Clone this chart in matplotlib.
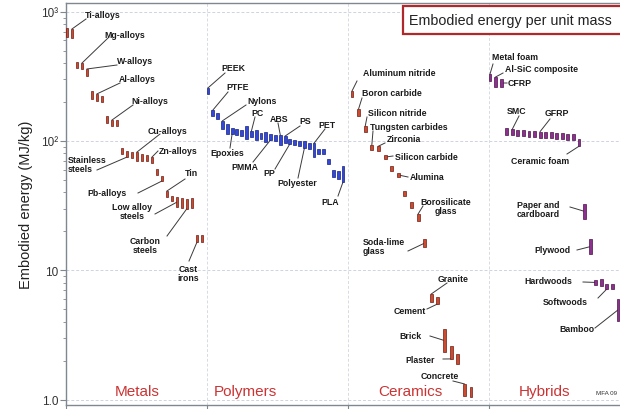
import matplotlib
matplotlib.use("Agg")
import matplotlib.pyplot as plt
from matplotlib.patches import Rectangle
from matplotlib.ticker import FixedLocator, FixedFormatter, LogLocator, NullFormatter

plt.rcParams['font.family'] = ['Liberation Sans', 'DejaVu Sans']

# ---------------- data (MJ/kg, low / high of each material bar) ----------------
groups = ["Metals", "Polymers", "Ceramics", "Hybrids"]

metals_lo = [637, 625, 366, 360, 318, 211, 204, 200, 138, 130, 130, 79, 75, 74, 70, 70,
             70, 67.5, 54.6, 49, 36.8, 34.3, 31, 30.3, 30, 30.3, 16.5, 16.5]
metals_hi = [747, 734, 408, 400, 360, 243, 231, 223, 156, 145, 145, 88, 83.5, 82, 82, 79,
             78, 75, 60.7, 53.6, 41, 37.5, 36.5, 36.2, 35.5, 36.2, 18.7, 18.7]

polymers_lo = [231, 156, 148, 124, 113, 113, 111, 109, 103, 107, 102, 103, 98, 102, 100,
               93, 96, 95, 93, 91, 88, 86, 75, 79, 79, 66, 53, 51, 48]
polymers_hi = [257, 173, 164, 143, 135, 126, 124, 121, 130, 119, 121, 115, 117, 113, 111,
               111, 109, 104, 102, 100, 100, 96, 96, 87, 87, 72, 60, 58, 64]

ceramics_lo = [219, 156, 117, 85, 83.5, 72, 58.5, 52.6, 37.5, 30.3, 24, 15.1, 5.7, 5.5,
               2.33, 2.06, 1.88, 1.06, 1.045]
ceramics_hi = [243, 177, 130, 93, 91, 78, 64, 56.5, 41, 33.7, 27.2, 17.4, 6.55, 6.2,
               3.5, 2.6, 2.25, 1.32, 1.25]

hybrids_lo = [290, 261, 261, 112, 111, 110, 109, 108, 107, 106, 106, 105, 104, 103, 102,
              101, 91, 25, 13.3, 7.7, 7.55, 7.16, 7.16, 4.05]
hybrids_hi = [329, 312, 301, 125, 123, 122, 121, 120, 119, 118, 118, 117, 116, 115, 114,
              113, 103, 32.5, 17.4, 8.4, 8.5, 7.82, 7.82, 6.0]

ytick_vals = [1, 10, 100, 1000]
ytick_labels = ["1.0", "10", "10\u00b2", "10\u00b3"]

# ---------------- layout helpers ----------------
W, H = 620, 410
AX_L, AX_TOP, AX_BOT, CAT_W = 66, 4, 406, 141
Y1, DEC = 400.5, 129.3            # pixel row of 1.0 and pixels per decade


def px_x(px):
    return (px - AX_L) / CAT_W


def px_y(py):
    return 10 ** ((Y1 - py) / DEC)


fig = plt.figure(figsize=(W / 100, H / 100), dpi=100)
ax = fig.add_axes([AX_L / W, (H - AX_BOT) / H, 4 * CAT_W / W, (AX_BOT - AX_TOP) / H])
ax.set_yscale('log')
ax.set_xlim(0, 4)
ax.set_ylim(px_y(AX_BOT), px_y(AX_TOP))

styles = {
    "Metals":   dict(first=67, step=5.0,   fc='#cc4a2e', ec='#6e1a12'),
    "Polymers": dict(first=208, step=4.82, fc='#3347d8', ec='#14207e'),
    "Ceramics": dict(first=352, step=6.61, fc='#cc4a2e', ec='#6e1a12'),
    "Hybrids":  dict(first=490, step=5.565, fc='#8e3090', ec='#4a1048'),
}
data = {
    "Metals": (metals_lo, metals_hi),
    "Polymers": (polymers_lo, polymers_hi),
    "Ceramics": (ceramics_lo, ceramics_hi),
    "Hybrids": (hybrids_lo, hybrids_hi),
}


def bar_x(g, i):
    s = styles[g]
    return px_x(s["first"] + i * s["step"])


bw = 2.9 / CAT_W
for g in groups:
    lo, hi = data[g]
    xs = [bar_x(g, i) for i in range(len(lo))]
    heights = [h - l for l, h in zip(lo, hi)]
    ax.bar(xs, heights, bottom=lo, width=bw, color=styles[g]["fc"],
           edgecolor=styles[g]["ec"], linewidth=0.5, zorder=3)

# grid
for v in ytick_vals:
    ax.axhline(v, color='#cdd4e0', lw=0.7, ls=(0, (3, 2)), zorder=1)
for k in range(1, 4):
    ax.axvline(k, color='#d6dbe4', lw=0.7, ls=(0, (3, 2)), zorder=1)

# axes styling
ax.spines['right'].set_visible(False)
for side in ['left', 'bottom', 'top']:
    ax.spines[side].set_color('#7f8790')
    ax.spines[side].set_linewidth(1.0)
ax.yaxis.set_major_locator(FixedLocator(ytick_vals))
ax.yaxis.set_major_formatter(FixedFormatter(ytick_labels))
ax.yaxis.set_minor_locator(LogLocator(base=10, subs=range(2, 10)))
ax.yaxis.set_minor_formatter(NullFormatter())
ax.tick_params(axis='y', which='major', length=4, width=0.8, color='#7f8790',
               labelsize=8.5, labelcolor='#333333', pad=1.5)
ax.tick_params(axis='y', which='minor', length=2.5, width=0.6, color='#7f8790')
ax.set_xticks([0, 1, 2, 3])
ax.set_xticklabels([])
ax.tick_params(axis='x', length=4, width=0.8, color='#7f8790')
ax.set_ylabel("Embodied energy (MJ/kg)", fontsize=10.5, color='#222222', labelpad=6)

# group titles
group_px = [137, 245, 410, 545]
for name, gx in zip(groups, group_px):
    ax.text(px_x(gx), px_y(392), name, ha='center', va='center', fontsize=11,
            color='#cc3333', zorder=4)
ax.text(px_x(596), px_y(394), "MFA 09", ha='left', va='center', fontsize=4.5,
        color='#333333', clip_on=False)

# labels with leader lines: text, text px (x, y), ha, line start px, group, bar index, end
notes = [
    ("Ti-alloys", 103, 15, 'center', 86, 20, "Metals", 1, 'hi'),
    ("Mg-alloys", 125, 35, 'center', 108, 39, "Metals", 3, 'hi'),
    ("W-alloys", 135, 61, 'center', 117, 66, "Metals", 4, 'hi'),
    ("Al-alloys", 137, 80, 'center', 120, 84, "Metals", 6, 'hi'),
    ("Ni-alloys", 150, 102, 'center', 133, 106, "Metals", 9, 'hi'),
    ("Cu-alloys", 167, 131, 'center', 160, 135, "Metals", 14, 'hi'),
    ("Zn-alloys", 159, 151, 'left', 158, 152, "Metals", 17, 'hi'),
    ("Stainless\nsteels", 68, 165, 'left', 97, 171, "Metals", 12, 'lo'),
    ("Tin", 191, 174, 'center', 185, 180, "Metals", 20, 'hi'),
    ("Pb-alloys", 107, 194, 'center', 138, 194, "Metals", 19, 'lo'),
    ("Low alloy\nsteels", 132, 212, 'center', 155, 215, "Metals", 22, 'mid'),
    ("Carbon\nsteels", 145, 246, 'center', 167, 237, "Metals", 24, 'lo'),
    ("Cast\nirons", 188, 274, 'center', 189, 262, "Metals", 26, 'lo'),
    ("PEEK", 233, 68, 'center', 225, 74, "Polymers", 0, 'hi'),
    ("PTFE", 238, 88, 'center', 228, 93, "Polymers", 1, 'hi'),
    ("Nylons", 262, 101, 'center', 246, 106, "Polymers", 3, 'hi'),
    ("PC", 257, 113, 'center', 255, 118, "Polymers", 9, 'hi'),
    ("ABS", 279, 119, 'center', 278, 124, "Polymers", 15, 'hi'),
    ("PS", 305, 122, 'center', 300, 127, "Polymers", 16, 'hi'),
    ("PET", 327, 125, 'center', 325, 130, "Polymers", 22, 'hi'),
    ("Epoxies", 227, 153, 'center', 230, 149, "Polymers", 5, 'lo'),
    ("PMMA", 245, 167, 'center', 253, 163, "Polymers", 13, 'lo'),
    ("PP", 269, 174, 'center', 275, 170, "Polymers", 17, 'lo'),
    ("Polyester", 297, 184, 'center', 298, 179, "Polymers", 20, 'lo'),
    ("PLA", 330, 203, 'center', 338, 197, "Polymers", 28, 'lo'),
    ("Aluminum nitride", 363, 73, 'left', 357, 82, "Ceramics", 0, 'hi'),
    ("Boron carbide", 362, 94, 'left', 362, 99, "Ceramics", 1, 'hi'),
    ("Silicon nitride", 368, 113, 'left', 367, 118, "Ceramics", 2, 'hi'),
    ("Tungsten carbides", 370, 127, 'left', 373, 132, "Ceramics", 3, 'hi'),
    ("Zirconia", 387, 140, 'left', 385, 144, "Ceramics", 4, 'hi'),
    ("Silicon carbide", 395, 157, 'left', 393, 157, "Ceramics", 5, 'mid'),
    ("Alumina", 410, 178, 'left', 408, 178, "Ceramics", 7, 'mid'),
    ("Borosilicate\nglass", 446, 207, 'center', 423, 207, "Ceramics", 10, 'hi'),
    ("Soda-lime\nglass", 363, 247, 'left', 408, 252, "Ceramics", 11, 'mid'),
    ("Granite", 453, 280, 'center', 447, 284, "Ceramics", 12, 'hi'),
    ("Cement", 410, 312, 'center', 427, 310, "Ceramics", 13, 'lo'),
    ("Brick", 410, 337, 'center', 430, 337, "Ceramics", 14, 'mid'),
    ("Plaster", 420, 361, 'center', 443, 360, "Ceramics", 15, 'lo'),
    ("Concrete", 440, 377, 'center', 453, 382, "Ceramics", 17, 'hi'),
    ("Metal foam", 492, 57, 'left', 493, 65, "Hybrids", 0, 'hi'),
    ("Al-SiC composite", 505, 70, 'left', 503, 74, "Hybrids", 1, 'hi'),
    ("CFRP", 508, 84, 'left', 507, 84, "Hybrids", 2, 'mid'),
    ("SMC", 517, 111, 'center', 519, 117, "Hybrids", 4, 'hi'),
    ("GFRP", 557, 114, 'center', 550, 120, "Hybrids", 9, 'hi'),
    ("Ceramic foam", 540, 161, 'center', 567, 155, "Hybrids", 16, 'lo'),
    ("Paper and\ncardboard", 538, 210, 'center', 570, 208, "Hybrids", 17, 'mid'),
    ("Plywood", 552, 251, 'center', 577, 251, "Hybrids", 18, 'mid'),
    ("Hardwoods", 548, 282, 'center', 583, 283, "Hybrids", 19, 'mid'),
    ("Softwoods", 565, 303, 'center', 598, 299, "Hybrids", 21, 'lo'),
    ("Bamboo", 577, 329, 'center', 595, 329, "Hybrids", 23, 'mid'),
]

for text, tx, ty, ha, lx, ly, g, i, end in notes:
    lo, hi = data[g]
    if end == 'hi':
        by = hi[i]
    elif end == 'lo':
        by = lo[i]
    else:
        by = (lo[i] * hi[i]) ** 0.5
    ax.plot([px_x(lx), bar_x(g, i)], [px_y(ly), by], color='#3a3a3a', lw=0.7,
            zorder=2, clip_on=False)
    ax.text(px_x(tx), px_y(ty), text, ha=ha, va='center', fontsize=6.3,
            fontweight='bold', color='#1a1a1a', linespacing=1.05, zorder=5,
            multialignment='left' if ha == 'left' else 'center')

# title box
fig.patches.append(Rectangle((403 / W, (H - 35) / H), 0.4, 28 / H, transform=fig.transFigure,
                             facecolor='white', edgecolor='#b0282c', linewidth=1.6, zorder=10))
fig.text(409 / W, (H - 21) / H, "Embodied energy per unit mass", ha='left', va='center',
         fontsize=10.3, color='#222222', zorder=11)

fig.savefig("out.png", dpi=100)
